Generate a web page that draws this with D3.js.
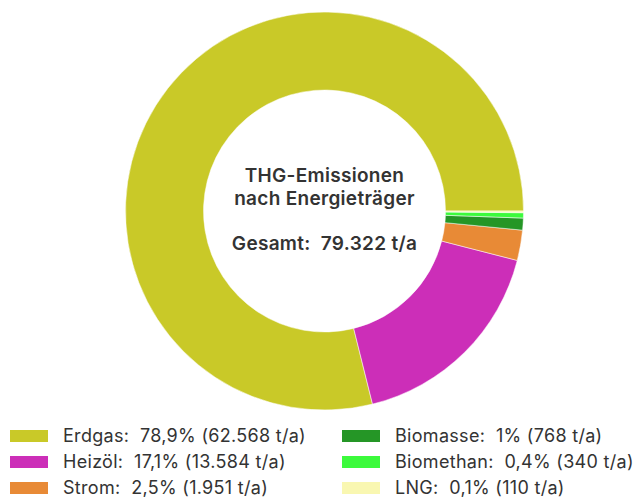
<!DOCTYPE html>
<html>
<head>
<meta charset="utf-8">
<script src="https://cdn.jsdelivr.net/npm/d3@7"></script>
<style>
  body { margin: 0; background: #fff; }
  text { font-family: Inter, "Noto Sans", sans-serif; fill: #333; white-space: pre; }
</style>
</head>
<body>
<svg id="chart" width="639" height="500"></svg>
<script>
// emissions per energy carrier (t/a)
var carriers = ["Erdgas", "Heizöl", "Strom", "Biomasse", "Biomethan", "LNG"];
var tonnes = [62568, 13584, 1951, 768, 340, 110];
var shares = ["78,9%", "17,1%", "2,5%", "1%", "0,4%", "0,1%"];
var colors = ["#c9c928", "#cc2eb8", "#e88a36", "#259626", "#3cfa3c", "#f9f7b1"];
var totalLabel = "79.322 t/a";

var cx = 324.5, cy = 211, outerR = 199, innerR = 121;

var svg = d3.select("#chart");

var data = carriers.map(function (c, i) {
	return { name: c, value: tonnes[i], share: shares[i], color: colors[i] };
});

// slices run counterclockwise starting at 3 o'clock
var pie = d3.pie()
	.sort(null)
	.value(function (d) { return d.value; })
	.startAngle(Math.PI / 2)
	.endAngle(Math.PI / 2 - 2 * Math.PI);

var arc = d3.arc().innerRadius(innerR).outerRadius(outerR);

var g = svg.append("g").attr("transform", "translate(" + cx + "," + cy + ")");

g.selectAll("path")
	.data(pie(data))
	.enter().append("path")
	.attr("d", arc)
	.attr("fill", function (d) { return d.data.color; })
	.attr("stroke", "#fff")
	.attr("stroke-width", 0.5);

// center text
var center = g.append("g")
	.attr("text-anchor", "middle")
	.style("font-weight", 600)
	.style("font-size", "19px")
	.style("letter-spacing", "0.3px");
center.append("text").attr("y", -29).text("THG-Emissionen");
center.append("text").attr("y", -6).text("nach Energieträger");
center.append("text").attr("y", 39).text("Gesamt:  " + totalLabel);

// legend, two columns of three
var legend = svg.append("g").selectAll(".legend")
	.data(data)
	.enter().append("g")
	.attr("class", "legend")
	.attr("transform", function (d, i) {
		var col = Math.floor(i / 3), row = i % 3;
		return "translate(" + (10 + col * 332) + "," + (430 + row * 26) + ")";
	});

legend.append("rect")
	.attr("width", 38)
	.attr("height", 12)
	.attr("fill", function (d) { return d.color; });

legend.append("text")
	.attr("x", 53)
	.attr("y", 6)
	.attr("dy", "0.35em")
	.style("font-size", "18px")
	.style("letter-spacing", "0.3px")
	.text(function (d) {
		return d.name + ":  " + d.share + " (" + d3.format(",")(d.value).replace(/,/g, ".") + " t/a)";
	});
</script>
</body>
</html>
